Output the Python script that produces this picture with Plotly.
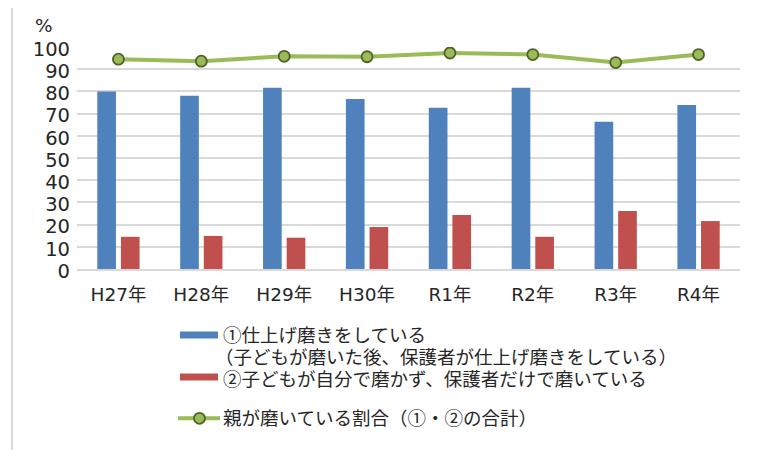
import plotly.graph_objects as go

categories = ["H27年", "H28年", "H29年", "H30年", "R1年", "R2年", "R3年", "R4年"]
finish_brushing = [80.0, 78.0, 81.6, 76.6, 72.6, 81.6, 66.3, 73.9]
parent_only = [14.5, 14.9, 14.1, 18.9, 24.3, 14.5, 26.1, 21.6]
parent_total = [94.5, 93.6, 95.8, 95.6, 97.3, 96.6, 93.0, 96.6]
y_ticks = [0, 10, 20, 30, 40, 50, 60, 70, 80, 90, 100]

name_blue = "①仕上げ磨きをしている"
name_blue2 = "（子どもが磨いた後、保護者が仕上げ磨きをしている）"
name_red = "②子どもが自分で磨かず、保護者だけで磨いている"
name_green = "親が磨いている割合（①・②の合計）"

BLUE = "#4F81BD"
RED = "#C0504D"
GREEN = "#9BBB59"
DKGREEN = "#4F6228"

OFF = 8  # page body margin
W, H = 763 - OFF, 450 - OFF
L, R, T, B = 77, 740, 46.7, 269.3  # page pixel coords of plot area

def px(x):
    return (x - L) / (R - L)

def py(y):
    return (B - y) / (B - T)

num_font = "DejaVu Sans, Noto Sans CJK JP, sans-serif"
jp_font = "Noto Sans CJK JP, sans-serif"

fig = go.Figure()
fig.add_trace(go.Bar(x=categories, y=finish_brushing, name=name_blue,
                     marker=dict(color=BLUE, line=dict(width=0))))
fig.add_trace(go.Bar(x=categories, y=parent_only, name=name_red,
                     marker=dict(color=RED, line=dict(width=0))))
fig.add_trace(go.Scatter(x=categories, y=parent_total, name=name_green,
                         mode="lines+markers",
                         line=dict(color=GREEN, width=4),
                         marker=dict(size=11, color=GREEN,
                                     line=dict(color=DKGREEN, width=1.8))))

shapes = [
    dict(type="rect", xref="paper", yref="paper",
         x0=px(12), x1=px(761), y0=py(470), y1=py(6.5),
         line=dict(color="#D9D9D9", width=2), fillcolor="rgba(0,0,0,0)", layer="below"),
    dict(type="line", xref="paper", yref="paper", x0=px(180), x1=px(218),
         y0=py(335.5), y1=py(335.5), line=dict(color=BLUE, width=7)),
    dict(type="line", xref="paper", yref="paper", x0=px(180), x1=px(218),
         y0=py(377.5), y1=py(377.5), line=dict(color=RED, width=7)),
    dict(type="line", xref="paper", yref="paper", x0=px(178), x1=px(220),
         y0=py(419), y1=py(419), line=dict(color=GREEN, width=4)),
    dict(type="circle", xref="paper", yref="paper", x0=px(194), x1=px(205),
         y0=py(424.5), y1=py(413.5), fillcolor=GREEN,
         line=dict(color=DKGREEN, width=1.8)),
]

ann_font = dict(family=jp_font, size=18.5, color="#262626")
annotations = [
    dict(text="%", xref="paper", yref="paper", x=px(44), y=py(25.5),
         showarrow=False, xanchor="center", yanchor="middle",
         font=dict(family=num_font, size=18.5, color="#262626")),
    dict(text=name_blue, xref="paper", yref="paper", x=px(221), y=py(334.5),
         showarrow=False, xanchor="left", yanchor="middle", font=ann_font),
    dict(text=name_blue2, xref="paper", yref="paper", x=px(213), y=py(357),
         showarrow=False, xanchor="left", yanchor="middle", font=ann_font),
    dict(text=name_red, xref="paper", yref="paper", x=px(221), y=py(378.5),
         showarrow=False, xanchor="left", yanchor="middle", font=ann_font),
    dict(text=name_green, xref="paper", yref="paper", x=px(221), y=py(418),
         showarrow=False, xanchor="left", yanchor="middle", font=ann_font),
]

fig.update_layout(
    width=W, height=H,
    margin=dict(l=L - OFF, r=OFF + W - R, t=T - OFF, b=OFF + H - B, pad=0),
    paper_bgcolor="white", plot_bgcolor="white",
    showlegend=False,
    barmode="group", bargap=0.43, bargroupgap=0.21,
    shapes=shapes, annotations=annotations,
    font=dict(family=num_font, size=19, color="#262626"),
)
fig.update_yaxes(range=[0, 100], tickvals=y_ticks, showgrid=True,
                 gridcolor="#D9D9D9", gridwidth=1.5, zeroline=False,
                 showline=False, ticks="", ticklabelstandoff=6,
                 ticklabelshift=2,
                 tickfont=dict(family=num_font, size=19.5, color="#262626"))
fig.update_xaxes(showgrid=False, showline=True, linecolor="#D9D9D9", linewidth=1.5,
                 ticks="", tickfont=dict(family=num_font, size=18.5, color="#262626"),
                 ticklabelstandoff=8)

fig.write_html("out.html")
